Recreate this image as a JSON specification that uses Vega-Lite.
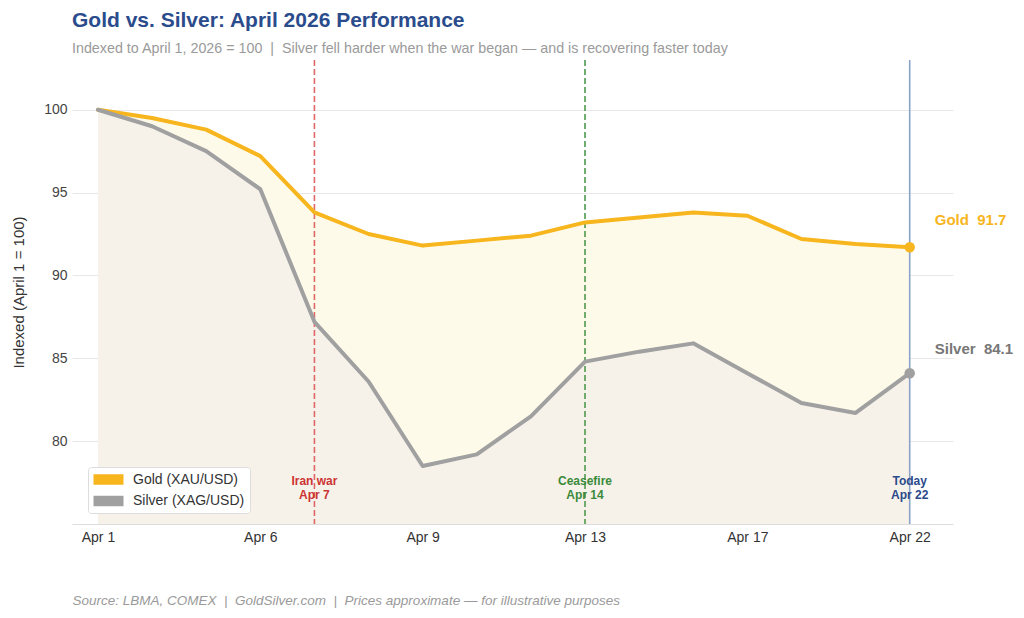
{
  "$schema": "https://vega.github.io/schema/vega-lite/v6.json",
  "autosize": "none",
  "width": 881,
  "height": 464,
  "padding": {"left": 72, "top": 60, "right": 71, "bottom": 94},
  "background": "white",
  "config": {
    "font": "Liberation Sans",
    "view": {"stroke": null},
    "title": {"anchor": "start", "frame": "group", "fontSize": 21, "fontWeight": "bold", "color": "#2b4c8c", "subtitleFontSize": 14.3, "subtitleColor": "#9a9a9a", "subtitlePadding": 11, "offset": 3}
  },
  "title": {"text": "Gold vs. Silver: April 2026 Performance", "subtitle": "Indexed to April 1, 2026 = 100 \u00a0|\u00a0 Silver fell harder when the war began — and is recovering faster today"},
  "datasets": {
    "main": [
      {"i": 0, "metal": "Gold (XAU/USD)", "value": 100.0},
      {"i": 1, "metal": "Gold (XAU/USD)", "value": 99.5},
      {"i": 2, "metal": "Gold (XAU/USD)", "value": 98.8},
      {"i": 3, "metal": "Gold (XAU/USD)", "value": 97.2},
      {"i": 4, "metal": "Gold (XAU/USD)", "value": 93.8},
      {"i": 5, "metal": "Gold (XAU/USD)", "value": 92.5},
      {"i": 6, "metal": "Gold (XAU/USD)", "value": 91.8},
      {"i": 7, "metal": "Gold (XAU/USD)", "value": 92.1},
      {"i": 8, "metal": "Gold (XAU/USD)", "value": 92.4},
      {"i": 9, "metal": "Gold (XAU/USD)", "value": 93.2},
      {"i": 10, "metal": "Gold (XAU/USD)", "value": 93.5},
      {"i": 11, "metal": "Gold (XAU/USD)", "value": 93.8},
      {"i": 12, "metal": "Gold (XAU/USD)", "value": 93.6},
      {"i": 13, "metal": "Gold (XAU/USD)", "value": 92.2},
      {"i": 14, "metal": "Gold (XAU/USD)", "value": 91.9},
      {"i": 15, "metal": "Gold (XAU/USD)", "value": 91.7},
      {"i": 0, "metal": "Silver (XAG/USD)", "value": 100.0},
      {"i": 1, "metal": "Silver (XAG/USD)", "value": 99.0},
      {"i": 2, "metal": "Silver (XAG/USD)", "value": 97.5},
      {"i": 3, "metal": "Silver (XAG/USD)", "value": 95.2},
      {"i": 4, "metal": "Silver (XAG/USD)", "value": 87.2},
      {"i": 5, "metal": "Silver (XAG/USD)", "value": 83.6},
      {"i": 6, "metal": "Silver (XAG/USD)", "value": 78.5},
      {"i": 7, "metal": "Silver (XAG/USD)", "value": 79.2},
      {"i": 8, "metal": "Silver (XAG/USD)", "value": 81.5},
      {"i": 9, "metal": "Silver (XAG/USD)", "value": 84.8},
      {"i": 10, "metal": "Silver (XAG/USD)", "value": 85.4},
      {"i": 11, "metal": "Silver (XAG/USD)", "value": 85.9},
      {"i": 12, "metal": "Silver (XAG/USD)", "value": 84.1},
      {"i": 13, "metal": "Silver (XAG/USD)", "value": 82.3},
      {"i": 14, "metal": "Silver (XAG/USD)", "value": 81.7},
      {"i": 15, "metal": "Silver (XAG/USD)", "value": 84.1}
    ],
    "events": [
      {"i": 4, "event": "Iran war", "label": "Iran war\nApr 7"},
      {"i": 9, "event": "Ceasefire", "label": "Ceasefire\nApr 14"},
      {"i": 15, "event": "Today", "label": "Today\nApr 22"}
    ],
    "ends": [
      {"i": 15, "metal": "Gold (XAU/USD)", "value": 91.7, "label": "Gold\u00a0\u00a091.7"},
      {"i": 15, "metal": "Silver (XAG/USD)", "value": 84.1, "label": "Silver\u00a0\u00a084.1"}
    ]
  },
  "encoding": {
    "x": {
      "field": "i", "type": "quantitative",
      "scale": {"domain": [-0.48, 15.8], "nice": false, "zero": false},
      "axis": {
        "values": [0, 3, 6, 9, 12, 15],
        "labelExpr": "['Apr 1','','','Apr 6','','','Apr 9','','','Apr 13','','','Apr 17','','','Apr 22'][datum.value]",
        "grid": false, "ticks": false, "domainColor": "#dddddd", "labelFontSize": 14, "labelColor": "#333333", "labelPadding": 6,
        "title": "Source: LBMA, COMEX \u00a0|\u00a0 GoldSilver.com \u00a0|\u00a0 Prices approximate — for illustrative purposes",
        "titleX": 0, "titleY": 69, "titleAlign": "left", "titleFontStyle": "italic", "titleFontWeight": "normal", "titleFontSize": 13.5, "titleColor": "#9a9a9a"
      }
    }
  },
  "layer": [
    {
      "data": {"name": "main"},
      "transform": [{"filter": "datum.metal === 'Gold (XAU/USD)'"}],
      "mark": {"type": "area", "color": "#fefaea", "opacity": 1},
      "encoding": {
        "y": {"field": "value", "type": "quantitative", "scale": {"domain": [75, 103], "nice": false, "zero": false},
          "axis": {"values": [80, 85, 90, 95, 100], "grid": true, "gridColor": "#e8e8e8", "domain": false, "ticks": false, "labelFontSize": 14, "labelColor": "#444444", "labelPadding": 5,
            "title": "Indexed (April 1 = 100)", "titleFontSize": 15, "titleFontWeight": "normal", "titleColor": "#333333", "titleX": -54, "titleY": 232, "titleAngle": -90, "titleBaseline": "middle"}},
        "y2": {"datum": 75}
      }
    },
    {
      "data": {"name": "main"},
      "transform": [{"filter": "datum.metal === 'Silver (XAG/USD)'"}],
      "mark": {"type": "area", "color": "#f6f2ea", "opacity": 1},
      "encoding": {
        "y": {"field": "value", "type": "quantitative"},
        "y2": {"datum": 75}
      }
    },
    {
      "data": {"name": "events"},
      "mark": {"type": "rule"},
      "encoding": {
        "stroke": {"field": "event", "type": "nominal", "scale": {"domain": ["Iran war", "Ceasefire", "Today"], "range": ["#e06666", "#4e9a4e", "#8aa2c8"]}, "legend": null},
        "strokeDash": {"field": "event", "type": "nominal", "scale": {"domain": ["Iran war", "Ceasefire", "Today"], "range": [[6, 3], [6, 3], [1, 0]]}, "legend": null},
        "strokeWidth": {"field": "event", "type": "nominal", "scale": {"domain": ["Iran war", "Ceasefire", "Today"], "range": [1.6, 1.6, 2]}, "legend": null}
      }
    },
    {
      "data": {"name": "events"},
      "mark": {"type": "text", "fontSize": 12, "fontWeight": "bold", "lineBreak": "\n", "lineHeight": 14, "baseline": "middle", "align": "center"},
      "encoding": {
        "y": {"datum": 77.58},
        "text": {"field": "label"},
        "fill": {"field": "event", "type": "nominal", "scale": {"domain": ["Iran war", "Ceasefire", "Today"], "range": ["#cc3333", "#3a8a3a", "#2a4a8a"]}, "legend": null}
      }
    },
    {
      "data": {"name": "main"},
      "mark": {"type": "line", "strokeWidth": 4, "strokeCap": "round", "strokeJoin": "round"},
      "encoding": {
        "y": {"field": "value", "type": "quantitative"},
        "color": {"field": "metal", "type": "nominal",
          "scale": {"domain": ["Gold (XAU/USD)", "Silver (XAG/USD)"], "range": ["#f7b51e", "#a0a0a0"]},
          "legend": {
            "title": null, "orient": "none", "legendX": 16, "legendY": 407, "padding": 5,
            "fillColor": "white", "strokeColor": "#dddddd", "cornerRadius": 3,
            "labelFontSize": 14, "labelColor": "#333333", "labelOffset": 17, "rowPadding": 6.5, "symbolOffset": 8,
            "labelExpr": "datum.label + '\u00a0\u00a0\u00a0'",
            "symbolType": "M-2,-0.7H2V0.7H-2Z", "symbolSize": 225, "symbolStrokeWidth": 0,
            "encode": {"symbols": {"update": {"fill": {"scale": "color", "field": "value"}, "strokeWidth": {"value": 0}, "opacity": {"value": 1}}}}
          }
        }
      }
    },
    {
      "data": {"name": "ends"},
      "mark": {"type": "point", "filled": true, "size": 110, "opacity": 1},
      "encoding": {
        "y": {"field": "value", "type": "quantitative"},
        "color": {"field": "metal", "type": "nominal"}
      }
    },
    {
      "data": {"name": "ends"},
      "transform": [{"filter": "datum.metal === 'Gold (XAU/USD)'"}],
      "mark": {"type": "text", "align": "left", "baseline": "middle", "dx": 25, "dy": -27, "fontSize": 15, "fontWeight": "bold", "color": "#f7b51e"},
      "encoding": {
        "y": {"field": "value", "type": "quantitative"},
        "text": {"field": "label"}
      }
    },
    {
      "data": {"name": "ends"},
      "transform": [{"filter": "datum.metal === 'Silver (XAG/USD)'"}],
      "mark": {"type": "text", "align": "left", "baseline": "middle", "dx": 25, "dy": -24, "fontSize": 15, "fontWeight": "bold", "color": "#777777"},
      "encoding": {
        "y": {"field": "value", "type": "quantitative"},
        "text": {"field": "label"}
      }
    }
  ]
}
